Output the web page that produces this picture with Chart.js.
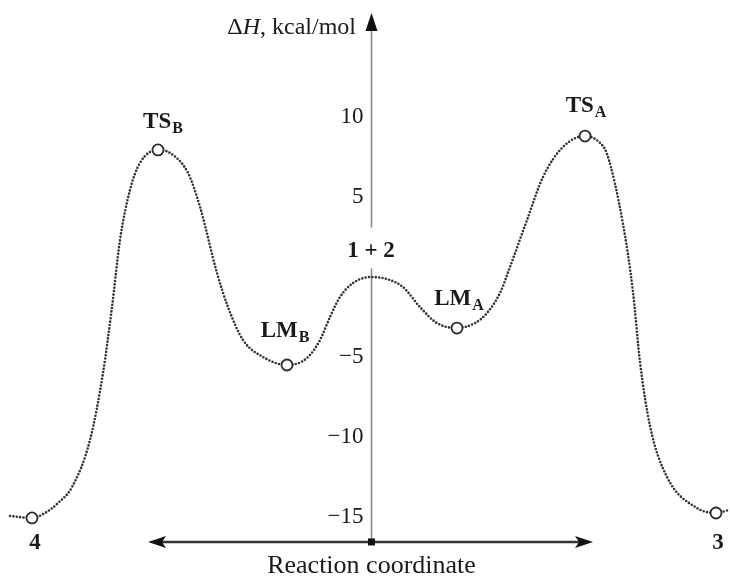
<!DOCTYPE html>
<html>
<head>
<meta charset="utf-8">
<script src="https://cdn.jsdelivr.net/npm/chart.js@4"></script>
<style>
html,body{margin:0;padding:0;background:#fff;}
#wrap{width:730px;height:576px;position:relative;}
</style>
</head>
<body>
<div id="wrap"><canvas id="c" width="730" height="576"></canvas></div>
<script>
// Reaction coordinate (arbitrary units, 0 = reactants 1 + 2) and enthalpy (kcal/mol) along the dotted profile
const curveX = [-36.1,-33.9,-32.6,-31.3,-29.9,-28.1,-26.8,-25.9,-25.1,-24.1,-23.1,-21.3,-20.1,-18.3,-17.1,-15.4,-14.3,-12.8,-10.8,-8.4,-6.4,-5.1,-4.1,-3.1,-1.8,0,1.6,3.2,4.9,6.6,8.6,10.4,11.6,12.9,13.9,15.6,17.2,19.2,21.4,22.9,23.6,25.2,26.2,26.9,27.9,29.6,32.6,34.5,35.8];
const curveY = [-14.94,-15.06,-14.75,-14.13,-13.13,-10.19,-6.0,-1.88,2.31,5.44,7.13,7.94,7.75,6.5,4.38,0.25,-1.88,-3.94,-5.0,-5.5,-5.06,-3.94,-2.5,-1.25,-0.38,0,-0.13,-0.63,-1.88,-2.88,-3.19,-2.88,-2.25,-1.0,0.63,3.56,6.25,8.13,8.81,8.38,7.69,3.31,-0.94,-5.31,-9.31,-12.5,-14.44,-14.75,-14.56];

// Stationary points
const keyNames = ['4','TS','LM','1 + 2','LM','TS','3'];
const keySubs  = ['','B','B','','A','A',''];
const keyX = [-33.9,-21.3,-8.4,0,8.6,21.4,34.5];
const keyY = [-15.06,7.94,-5.5,0,-3.19,8.81,-14.75];
const keyMarked = [true,true,true,false,true,true,true];

// Axis ticks and titles
const yTicks = [10,5,-5,-10,-15];
const yTitleParts = ['\u0394','H',', kcal/mol'];
const xTitle = 'Reaction coordinate';

// ---------- presentation ----------
const SERIF = '"Liberation Serif","DejaVu Serif",serif';
const labelOffsets = [[3,31],[5,-22],[-2,-28],[0,-20],[2,-23],[1,-24],[2,36]];

const decorPlugin = {
  id:'decor',
  beforeDatasetsDraw(chart){
    const ctx = chart.ctx, xs = chart.scales.x, ys = chart.scales.y;
    const ax = Math.round(xs.getPixelForValue(0)) + 0.5;
    const baseY = ys.getPixelForValue(-16.56);
    const gapTop = ys.getPixelForValue(3.1), gapBot = ys.getPixelForValue(0.55);
    ctx.save();
    // vertical axis (with gap for the "1 + 2" label)
    ctx.strokeStyle = '#8a8a8a'; ctx.lineWidth = 1.6;
    ctx.beginPath();
    ctx.moveTo(ax, 28); ctx.lineTo(ax, gapTop);
    ctx.moveTo(ax, gapBot); ctx.lineTo(ax, baseY);
    ctx.stroke();
    // arrow head up
    ctx.fillStyle = '#111';
    ctx.beginPath();
    ctx.moveTo(ax, 13); ctx.lineTo(ax-6, 31); ctx.lineTo(ax+6, 31); ctx.closePath(); ctx.fill();
    // horizontal double arrow
    const xl = xs.getPixelForValue(-22.3), xr = xs.getPixelForValue(22.2);
    ctx.strokeStyle = '#333'; ctx.lineWidth = 2.4;
    ctx.beginPath(); ctx.moveTo(xl+12, baseY); ctx.lineTo(xr-12, baseY); ctx.stroke();
    ctx.fillStyle = '#111';
    ctx.beginPath(); ctx.moveTo(xl, baseY); ctx.lineTo(xl+18, baseY-6); ctx.lineTo(xl+14, baseY); ctx.lineTo(xl+18, baseY+6); ctx.closePath(); ctx.fill();
    ctx.beginPath(); ctx.moveTo(xr, baseY); ctx.lineTo(xr-18, baseY-6); ctx.lineTo(xr-14, baseY); ctx.lineTo(xr-18, baseY+6); ctx.closePath(); ctx.fill();
    ctx.fillRect(ax-3.5, baseY-3.5, 7, 7);
    // tick labels
    ctx.font = '23px ' + SERIF;
    ctx.fillStyle = '#1a1a1a';
    ctx.textAlign = 'right'; ctx.textBaseline = 'middle';
    yTicks.forEach(v => {
      const t = (v < 0 ? '\u2212' + Math.abs(v) : String(v));
      ctx.fillText(t, ax - 8, ys.getPixelForValue(v));
    });
    // y title: ΔH, kcal/mol (right aligned)
    ctx.textAlign = 'left'; ctx.textBaseline = 'alphabetic';
    const fN = '24px ' + SERIF, fI = 'italic 24px ' + SERIF;
    const fonts = [fN, fI, fN];
    let tot = 0;
    yTitleParts.forEach((p,i)=>{ ctx.font = fonts[i]; tot += ctx.measureText(p).width; });
    let x0 = 356 - tot;
    yTitleParts.forEach((p,i)=>{ ctx.font = fonts[i]; ctx.fillText(p, x0, 34); x0 += ctx.measureText(p).width; });
    // x title
    ctx.font = '26px ' + SERIF; ctx.textAlign = 'center';
    ctx.fillText(xTitle, ax, 573);
    ctx.restore();
  },
  afterDatasetsDraw(chart){
    const ctx = chart.ctx, xs = chart.scales.x, ys = chart.scales.y;
    ctx.save();
    ctx.fillStyle = '#1a1a1a';
    ctx.textBaseline = 'alphabetic'; ctx.textAlign = 'left';
    const fMain = 'bold 23px ' + SERIF, fSub = 'bold 16px ' + SERIF;
    keyNames.forEach((n,i)=>{
      const px = xs.getPixelForValue(keyX[i]) + labelOffsets[i][0];
      const py = ys.getPixelForValue(keyY[i]) + labelOffsets[i][1];
      ctx.font = fMain; const w1 = ctx.measureText(n).width;
      ctx.font = fSub; const w2 = keySubs[i] ? ctx.measureText(keySubs[i]).width + 1 : 0;
      const sx = px - (w1 + w2)/2;
      ctx.font = fMain; ctx.fillText(n, sx, py);
      if (keySubs[i]) { ctx.font = fSub; ctx.fillText(keySubs[i], sx + w1 + 1, py + 5); }
    });
    ctx.restore();
  }
};

new Chart(document.getElementById('c'), {
  type:'scatter',
  data:{
    datasets:[
      {
        data: curveX.map((x,i)=>({x, y: curveY[i]})),
        showLine:true,
        borderColor:'#333',
        borderWidth:2.6,
        borderDash:[0,3.4],
        borderCapStyle:'round',
        cubicInterpolationMode:'monotone',
        pointRadius:0,
        fill:false,
        order:2
      },
      {
        data: keyX.map((x,i)=>({x, y: keyY[i]})).filter((p,i)=>keyMarked[i]),
        showLine:false,
        pointRadius:5.5,
        pointBorderWidth:1.8,
        pointBorderColor:'#2a2a2a',
        pointBackgroundColor:'#fff',
        order:1
      }
    ]
  },
  options:{
    responsive:false,
    animation:false,
    layout:{padding:0, autoPadding:false},
    plugins:{legend:{display:false}, tooltip:{enabled:false}},
    scales:{
      x:{type:'linear', min:-37.1, max:35.9, display:false},
      y:{type:'linear', min:-18.6875, max:17.3125, display:false}
    }
  },
  plugins:[decorPlugin]
});
</script>
</body>
</html>
